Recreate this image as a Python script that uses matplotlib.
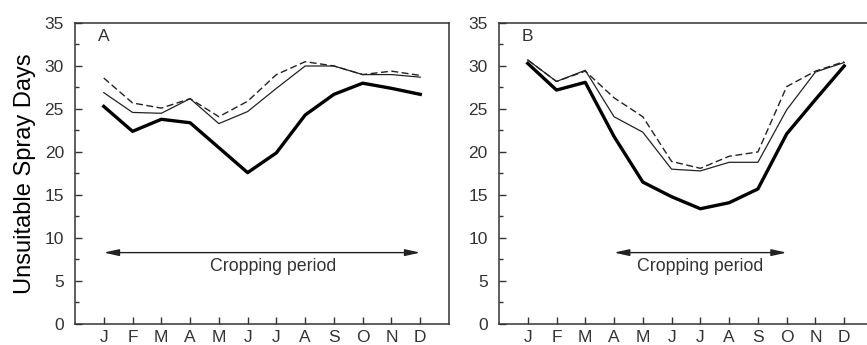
import numpy as np
import matplotlib.pyplot as plt

plt.rcParams['font.family'] = ['Liberation Sans', 'DejaVu Sans']

months = ['J', 'F', 'M', 'A', 'M', 'J', 'J', 'A', 'S', 'O', 'N', 'D']

# panel A
a_thick = [25.3, 22.4, 23.8, 23.4, 20.5, 17.6, 19.9, 24.3, 26.7, 28.0, 27.4, 26.7]
a_thin = [26.9, 24.6, 24.5, 26.2, 23.3, 24.7, 27.4, 30.0, 30.0, 29.0, 29.0, 28.7]
a_dash = [28.6, 25.7, 25.1, 26.2, 24.1, 25.9, 29.0, 30.5, 30.0, 29.0, 29.4, 28.9]

# panel B
b_thick = [30.3, 27.2, 28.1, 21.8, 16.5, 14.8, 13.4, 14.1, 15.7, 22.1, 26.1, 30.0]
b_thin = [30.7, 28.2, 29.5, 24.1, 22.3, 18.0, 17.8, 18.8, 18.8, 24.9, 29.3, 30.4]
b_dash = [30.7, 28.2, 29.4, 26.3, 24.1, 18.9, 18.1, 19.5, 20.0, 27.6, 29.4, 30.5]

crop_a = (0, 11)
crop_b = (3, 9)

fig = plt.figure(figsize=(8.67, 3.45), dpi=100)
axA = fig.add_axes([0.0865, 0.0609, 0.4314, 0.8725])
axB = fig.add_axes([0.5755, 0.0609, 0.4314, 0.8725])

gray = '#333333'
x = np.arange(12)

for ax, thick, thin, dash, crop, lab in [(axA, a_thick, a_thin, a_dash, crop_a, 'A'),
                                          (axB, b_thick, b_thin, b_dash, crop_b, 'B')]:
    ax.plot(x, dash, '--', color='#222222', lw=1.0, dashes=(5, 2.5))
    ax.plot(x, thin, '-', color='#222222', lw=0.9)
    ax.plot(x, thick, '-', color='black', lw=2.4)
    ax.set_xlim(-1, 12)
    ax.set_ylim(0, 35)
    ax.set_xticks(x)
    ax.set_xticklabels(months)
    ax.set_yticks(np.arange(0, 36, 5))
    ax.set_yticks(np.arange(2.5, 35, 5), minor=True)
    ax.tick_params(axis='both', which='major', direction='in', length=5, width=1,
                   color=gray, labelcolor=gray, labelsize=12.5)
    ax.tick_params(axis='y', which='major', pad=8)
    ax.tick_params(axis='y', which='minor', direction='in', length=3, width=1, color=gray)
    ax.tick_params(axis='x', which='major', pad=4.5)
    for s in ax.spines.values():
        s.set_color(gray)
        s.set_linewidth(1.1)
    ax.text(0, 33.4, lab, ha='center', va='center', fontsize=12.5, color=gray)
    ax.annotate('', xy=(crop[0], 8.3), xytext=(crop[1], 8.3),
                arrowprops=dict(arrowstyle='<|-|>,head_length=0.9,head_width=0.2',
                                color='#222222', lw=1.0, shrinkA=0, shrinkB=0))
    ax.text((crop[0] + crop[1]) / 2 + 0.4 * (lab == 'A'), 6.7, 'Cropping period',
            ha='center', va='center', fontsize=12.8, color=gray)

axA.set_ylabel('Unsuitable Spray Days', fontsize=17, color='black', labelpad=6)

fig.savefig('out.png', dpi=100)
